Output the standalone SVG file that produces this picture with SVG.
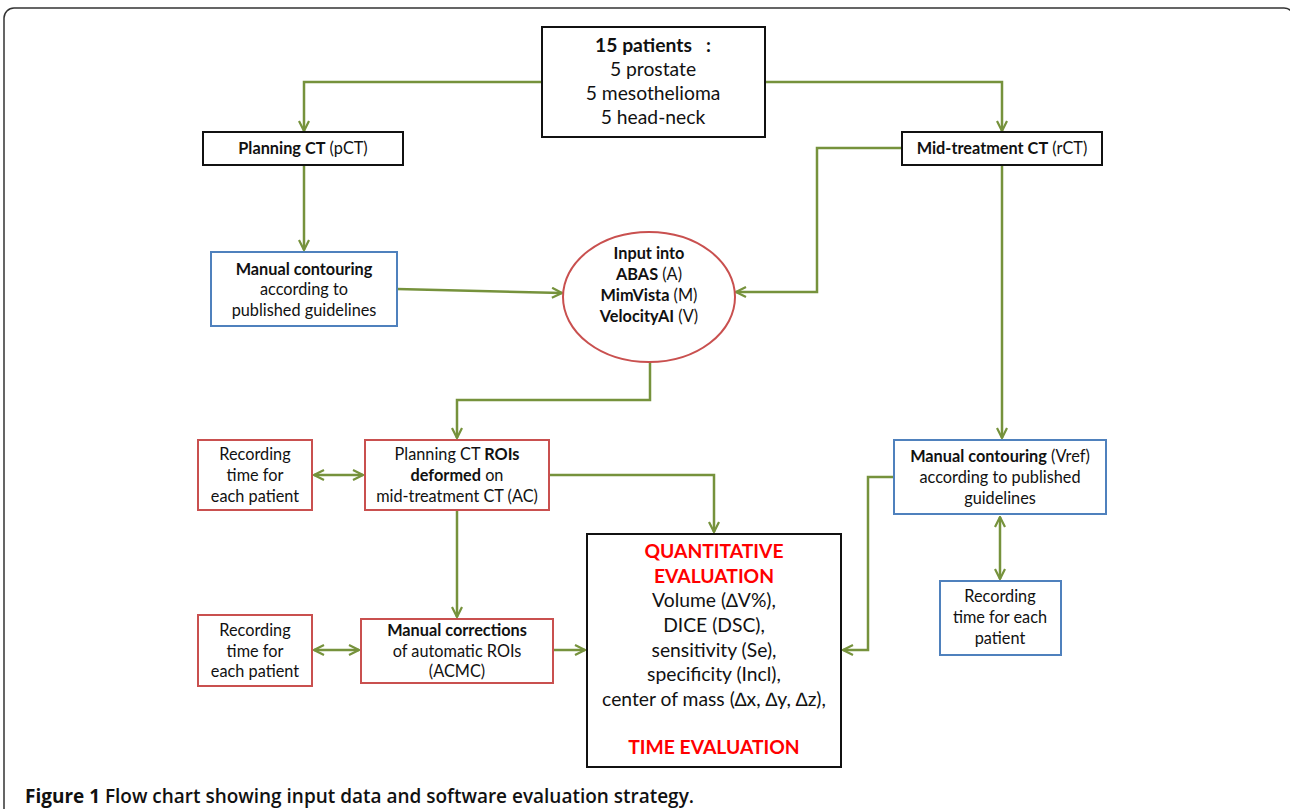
<svg xmlns="http://www.w3.org/2000/svg" width="1290" height="809" viewBox="0 0 1290 809">
<defs>
<marker id="arr" viewBox="0 0 12 12" refX="11" refY="6" markerWidth="12" markerHeight="12" markerUnits="userSpaceOnUse" orient="auto-start-reverse">
<path d="M1,1 L11,6 L1,11" fill="none" stroke="#76923C" stroke-width="2.2"/>
</marker>
</defs>
<style>
.conn{fill:none;stroke:#76923C;stroke-width:2.5}
.bk{fill:#fff;stroke:#111;stroke-width:2}
.rd{fill:#fff;stroke:#C9504F;stroke-width:2}
.bl{fill:#fff;stroke:#4F81BD;stroke-width:2}
text{font-family:Lato,"Liberation Sans",sans-serif;fill:#111;text-anchor:middle}
.b{font-weight:bold}
.red{fill:#FF0000;font-weight:bold}
.t16{font-size:16.3px}
.t19{font-size:19.3px}
</style>
<rect x="0" y="0" width="1290" height="809" fill="#fff"/>
<rect x="4" y="8" width="1290" height="840" rx="10" fill="none" stroke="#333" stroke-width="1.5"/>

<g id="connectors">
<path class="conn" d="M542,82 H304 V131" marker-end="url(#arr)"/>
<path class="conn" d="M765,82 H1002 V131" marker-end="url(#arr)"/>
<path class="conn" d="M304,165 V250" marker-end="url(#arr)"/>
<path class="conn" d="M397,289 L562,293" marker-end="url(#arr)"/>
<path class="conn" d="M902,148 H817 V292 H736" marker-end="url(#arr)"/>
<path class="conn" d="M650,362 V400 H457 V438" marker-end="url(#arr)"/>
<path class="conn" d="M314,475 H363" marker-start="url(#arr)" marker-end="url(#arr)"/>
<path class="conn" d="M457,510 V617" marker-end="url(#arr)"/>
<path class="conn" d="M314,650 H359" marker-start="url(#arr)" marker-end="url(#arr)"/>
<path class="conn" d="M553,650 H585" marker-end="url(#arr)"/>
<path class="conn" d="M549,475 H714 V532" marker-end="url(#arr)"/>
<path class="conn" d="M894,477 H868 V650 H843" marker-end="url(#arr)"/>
<path class="conn" d="M1002,165 V438" marker-end="url(#arr)"/>
<path class="conn" d="M1000,517 V579" marker-start="url(#arr)" marker-end="url(#arr)"/>
</g>

<g id="patients">
<rect class="bk" x="542" y="27" width="223" height="110"/>
<text class="t19" x="653" y="52"><tspan class="b">15 patients&#160;&#160;&#160;:</tspan></text>
<text class="t19" x="653" y="76">5 prostate</text>
<text class="t19" x="653" y="100">5 mesothelioma</text>
<text class="t19" x="653" y="124">5 head-neck</text>
</g>

<g id="planning-ct">
<rect class="bk" x="203" y="132" width="200" height="33"/>
<text class="t16" x="303" y="154"><tspan class="b">Planning CT</tspan> (pCT)</text>
</g>

<g id="mid-treatment-ct">
<rect class="bk" x="902" y="132" width="200" height="33"/>
<text class="t16" x="1002" y="154"><tspan class="b">Mid-treatment CT</tspan> (rCT)</text>
</g>

<g id="manual-contouring">
<rect class="bl" x="211" y="252" width="186" height="74"/>
<text class="t16" x="304" y="275"><tspan class="b">Manual contouring</tspan></text>
<text class="t16" x="304" y="295">according to</text>
<text class="t16" x="304" y="316">published guidelines</text>
</g>

<g id="input">
<ellipse cx="649" cy="297" rx="86" ry="65" fill="#fff" stroke="#C9504F" stroke-width="2"/>
<text class="t16" x="649" y="259"><tspan class="b">Input into</tspan></text>
<text class="t16" x="649" y="280"><tspan class="b">ABAS</tspan> (A)</text>
<text class="t16" x="649" y="301"><tspan class="b">MimVista</tspan> (M)</text>
<text class="t16" x="649" y="322"><tspan class="b">VelocityAI</tspan> (V)</text>
</g>

<g id="recording-1">
<rect class="rd" x="198" y="440" width="114" height="70"/>
<text class="t16" x="255" y="460">Recording</text>
<text class="t16" x="255" y="481">time for</text>
<text class="t16" x="255" y="502">each patient</text>
</g>

<g id="deformed">
<rect class="rd" x="365" y="440" width="184" height="70"/>
<text class="t16" x="457" y="460">Planning CT <tspan class="b">ROIs</tspan></text>
<text class="t16" x="457" y="481"><tspan class="b">deformed</tspan> on</text>
<text class="t16" x="457" y="502">mid-treatment CT (AC)</text>
</g>

<g id="recording-2">
<rect class="rd" x="198" y="615" width="114" height="71"/>
<text class="t16" x="255" y="636">Recording</text>
<text class="t16" x="255" y="657">time for</text>
<text class="t16" x="255" y="677">each patient</text>
</g>

<g id="corrections">
<rect class="rd" x="361" y="619" width="192" height="64"/>
<text class="t16" x="457" y="636"><tspan class="b">Manual corrections</tspan></text>
<text class="t16" x="457" y="657">of automatic ROIs</text>
<text class="t16" x="457" y="677">(ACMC)</text>
</g>

<g id="evaluation">
<rect class="bk" x="587" y="534" width="254" height="233"/>
<text class="t19 red" x="714" y="558">QUANTITATIVE</text>
<text class="t19 red" x="714" y="583">EVALUATION</text>
<text class="t19" x="714" y="607">Volume (∆V%),</text>
<text class="t19" x="714" y="632">DICE (DSC),</text>
<text class="t19" x="714" y="657">sensitivity (Se),</text>
<text class="t19" x="714" y="681">specificity (Incl),</text>
<text class="t19" x="714" y="706">center of mass (∆x, ∆y, ∆z),</text>
<text class="t19 red" x="714" y="754">TIME EVALUATION</text>
</g>

<g id="manual-vref">
<rect class="bl" x="894" y="440" width="212" height="74"/>
<text class="t16" x="1000" y="462"><tspan class="b">Manual contouring</tspan> (Vref)</text>
<text class="t16" x="1000" y="483">according to published</text>
<text class="t16" x="1000" y="504">guidelines</text>
</g>

<g id="recording-3">
<rect class="bl" x="940" y="581" width="121" height="74"/>
<text class="t16" x="1000" y="602">Recording</text>
<text class="t16" x="1000" y="623">time for each</text>
<text class="t16" x="1000" y="644">patient</text>
</g>

<text x="25" y="803" style="font-size:19px;text-anchor:start;font-family:'Open Sans','Liberation Sans',sans-serif" textLength="669" lengthAdjust="spacingAndGlyphs"><tspan font-weight="bold">Figure 1</tspan><tspan font-weight="600"> Flow chart showing input data and software evaluation strategy.</tspan></text>
</svg>
